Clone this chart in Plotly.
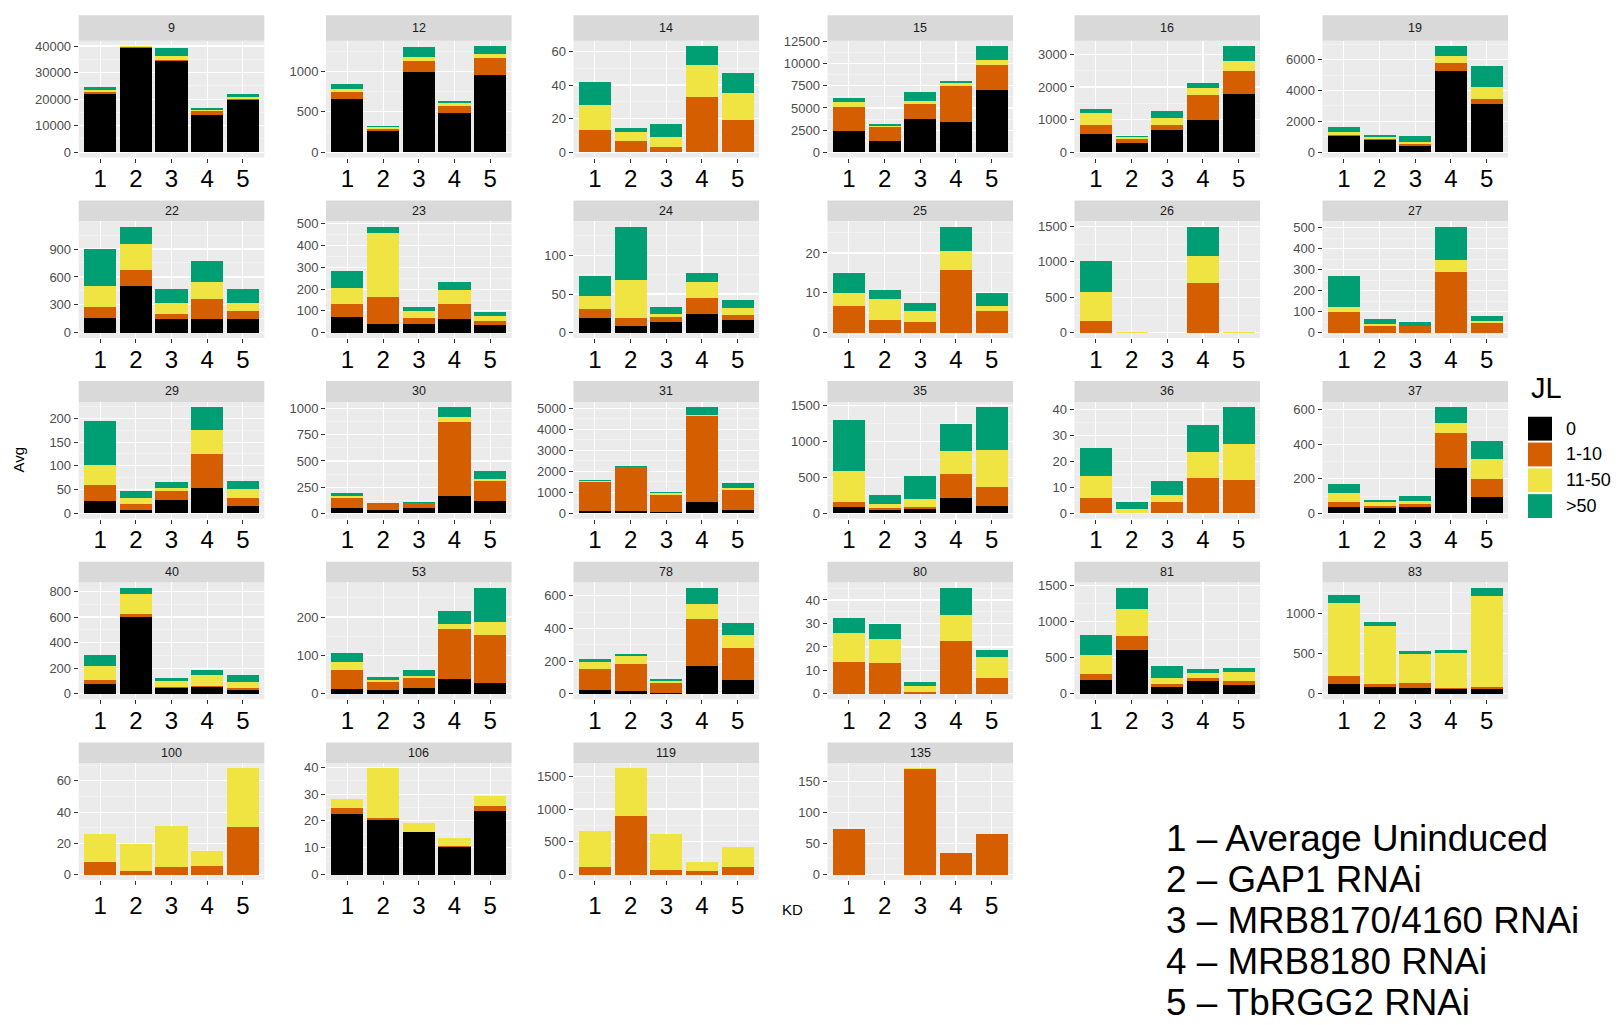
import plotly.graph_objects as go

# ---------------- data ----------------
panels = ["9", "12", "14", "15", "16", "19", "22", "23", "24", "25", "26", "27",
          "29", "30", "31", "35", "36", "37", "40", "53", "78", "80", "81", "83",
          "100", "106", "119", "135"]
kd = ["1", "2", "3", "4", "5"]
jl_levels = ["0", "1-10", "11-50", ">50"]
jl_colors = ["#000000", "#D55E00", "#F0E442", "#009E73"]

jl_0 = [
    [22000, 39100, 34500, 14100, 19600], [660, 265, 990, 483, 963], [0, 0, 0, 0, 0],
    [2450, 1280, 3740, 3470, 6990], [563, 287, 666, 983, 1792], [1040, 800, 433, 5263, 3120],
    [159, 500, 149, 149, 149], [72, 41, 41, 62, 36], [18.7, 8.9, 14.5, 24.7, 16.2],
    [0, 0, 0, 0, 0], [0, 0, 0, 0, 0], [0, 0, 0, 0, 0],
    [25.7, 7, 27.8, 54, 16], [50, 32, 50, 170, 117], [94, 94, 47, 535, 157],
    [88, 42, 60, 217, 106], [0, 0, 0, 0, 0], [36, 29, 36, 261, 96],
    [79, 600, 49, 56, 31], [12.8, 10.3, 16.2, 38.5, 27.4], [24, 16, 8, 169, 84],
    [0, 0, 0, 0, 0], [191, 609, 95, 173, 127], [126, 85, 73, 57, 57],
    [0, 0, 0, 0, 0], [22.6, 20.2, 15.9, 10.1, 23.6], [0, 0, 0, 0, 0], [0, 0, 0, 0, 0],
]
jl_1_10 = [
    [500, 400, 300, 1300, 600], [90, 28, 138, 96, 211], [13, 6.8, 2.8, 32.6, 19.1],
    [2690, 1550, 1700, 4040, 2830], [277, 133, 163, 768, 696], [108, 65, 108, 520, 347],
    [121, 180, 57, 216, 85], [58, 124, 27, 68, 18], [11.9, 9.8, 6.4, 20.4, 7.2],
    [6.75, 3.1, 2.8, 15.8, 5.4], [163, 0, 0, 701, 0], [97, 33, 33, 290, 47],
    [33.3, 11.8, 18.7, 71.5, 16.6], [95, 63, 45, 704, 192], [1384, 2092, 849, 4088, 944],
    [64, 36, 23, 332, 268], [5.8, 0.1, 4.2, 13.7, 12.8], [29, 15, 21, 203, 105],
    [29, 23, 7, 8, 13], [48.7, 19.7, 25.7, 131.5, 125.6], [129, 165, 56, 287, 199],
    [13.6, 13, 0.7, 22.7, 6.85], [82, 186, 37, 50, 55], [98, 41, 57, 16, 28],
    [7.8, 2.3, 5.1, 5.7, 30.2], [2.1, 0.85, 0.1, 0.7, 1.8], [121, 896, 70, 50, 121],
    [73, 0, 170, 35, 64.5],
]
jl_11_50 = [
    [800, 400, 1300, 500, 500], [40, 17, 58, 28, 41], [15, 5.3, 6.5, 19.1, 16.1],
    [530, 190, 380, 265, 640], [348, 41, 226, 215, 317], [173, 109, 109, 433, 758],
    [220, 277, 109, 181, 81], [77, 290, 30, 65, 25], [17.5, 49.8, 3.8, 20.4, 8.5],
    [3.1, 5.3, 2.55, 4.7, 1.3], [408, 12, 0, 381, 12], [25, 11, 1, 58, 8],
    [42, 13.8, 7.7, 49.3, 18.8], [16, 2, 6, 41, 22], [63, 31, 79, 47, 110],
    [443, 47, 115, 314, 503], [8.4, 1.6, 3, 9.7, 13.9], [52, 19, 16, 57, 111],
    [112, 159, 44, 80, 46], [21.5, 6, 6, 12, 34], [42, 48, 14, 94, 74],
    [12.3, 10.5, 2.8, 10.9, 8.95], [259, 378, 91, 72, 123], [906, 715, 362, 435, 1130],
    [18.4, 17.1, 26.2, 9.5, 37.8], [3.5, 18.55, 3.3, 3, 4], [548, 725, 554, 136, 292],
    [1, 0, 1, 0, 1.5],
]
jl_over50 = [
    [1200, 100, 3100, 900, 1400], [60, 16, 116, 33, 103], [13.5, 2.2, 7.2, 11.5, 11.7],
    [415, 150, 1020, 225, 1550], [143, 30, 204, 143, 451], [303, 151, 390, 672, 1343],
    [400, 184, 156, 230, 156], [77, 31, 21, 38, 15], [24.7, 68.5, 8.9, 11.5, 10.2],
    [5.1, 2.3, 2.05, 6.1, 3.2], [446, 0, 0, 414, 0], [148, 20, 15, 157, 27],
    [93, 14.6, 12.5, 48.6, 17.35], [35, 2, 6, 98, 76], [63, 47, 47, 377, 236],
    [711, 138, 319, 378, 604], [10.8, 2.5, 5.2, 10.4, 14.1], [52, 12, 29, 94, 106],
    [80, 46, 26, 43, 56], [23, 8.4, 14.5, 32.5, 89], [20, 14, 12, 98, 78],
    [6.3, 6.3, 1.4, 11.6, 2.9], [282, 295, 168, 50, 59], [98, 53, 41, 37, 98],
    [0, 0, 0, 0, 0], [0, 0, 0, 0, 0], [0, 0, 0, 0, 0], [0, 0, 0, 0, 0],
]
tick_step = [10000, 500, 20, 2500, 1000, 2000, 300, 100, 50, 10, 500, 100,
             50, 250, 1000, 500, 10, 200, 200, 100, 200, 10, 500, 500,
             20, 10, 500, 50]
kd_labels = ["1 \u2013 Average Uninduced", "2 \u2013 GAP1 RNAi",
             "3 \u2013 MRB8170/4160 RNAi", "4 \u2013 MRB8180 RNAi", "5 \u2013 TbRGG2 RNAi"]

series = [jl_0, jl_1_10, jl_11_50, jl_over50]

# ---------------- layout geometry (pixels) ----------------
W, H = 1622, 1025
FONT = "Liberation Sans"
col_left = [78.7, 326.0, 573.5, 827.5, 1074.5, 1322.5]
panel_w = 185.6
plot_top0 = 35.0
plot_h = 117.7
row_pitch = 182.0
strip_h_rows = [25.7, 21.0, 21.0, 21.0, 20.7]

fig = go.Figure()
layout = {}
shapes = []
annotations = []

for i, name in enumerate(panels):
    r, c = divmod(i, 6)
    n = i + 1
    xa = "x" if n == 1 else f"x{n}"
    ya = "y" if n == 1 else f"y{n}"
    for lvl, colr, data in zip(jl_levels, jl_colors, series):
        fig.add_trace(go.Bar(x=kd, y=data[i], name=lvl, marker_color=colr,
                             marker_line_width=0, width=0.9, xaxis=xa, yaxis=ya,
                             showlegend=False))
    totals = [sum(s[i][k] for s in series) for k in range(5)]
    M = max(totals)
    left = col_left[c]
    top = plot_top0 + r * row_pitch
    bottom = top + plot_h
    strip_h = strip_h_rows[r]
    x0, x1 = left / W, (left + panel_w) / W
    y0, y1 = 1 - bottom / H, 1 - top / H
    step = tick_step[i]
    sfx = "" if n == 1 else str(n)
    layout["xaxis" + sfx] = dict(
        domain=[x0, x1], anchor=ya, type="category", range=[-0.6, 4.6],
        showgrid=True, gridcolor="white", gridwidth=1.1, zeroline=False,
        ticks="outside", ticklen=4, tickcolor="#333333", tickwidth=1,
        ticklabelstandoff=(0 if r == 4 else -4),
        tickfont=dict(family=FONT, size=24, color="black"), showline=False,
        fixedrange=True)
    layout["yaxis" + sfx] = dict(
        domain=[y0, y1], anchor=xa, range=[-0.05 * M, 1.05 * M],
        tickmode="linear", tick0=0, dtick=step, tickformat="d",
        showgrid=True, gridcolor="white", gridwidth=1.1, zeroline=False,
        ticks="outside", ticklen=4, tickcolor="#333333", tickwidth=1,
        tickfont=dict(family=FONT, size=13, color="#4D4D4D"), showline=False,
        minor=dict(tick0=0, dtick=step / 2, showgrid=True, gridcolor="#F7F7F7",
                   gridwidth=0.6, ticks=""),
        fixedrange=True)
    shapes.append(dict(type="rect", xref="paper", yref="paper", x0=x0, x1=x1,
                       y0=y1, y1=1 - (top - strip_h) / H, fillcolor="#D9D9D9",
                       line=dict(width=0), layer="below"))
    annotations.append(dict(xref="paper", yref="paper", x=(x0 + x1) / 2,
                            y=1 - (top - strip_h / 2) / H, text=name, showarrow=False,
                            font=dict(family=FONT, size=12.5, color="#1A1A1A"),
                            xanchor="center", yanchor="middle"))

# axis titles
annotations.append(dict(xref="paper", yref="paper", x=18 / W, y=1 - 457 / H, text="Avg",
                        textangle=-90, showarrow=False, xanchor="center", yanchor="middle",
                        font=dict(family=FONT, size=15, color="black")))
annotations.append(dict(xref="paper", yref="paper", x=792 / W, y=1 - 911 / H, text="KD",
                        showarrow=False, xanchor="center", yanchor="middle",
                        font=dict(family=FONT, size=15, color="black")))

# legend (drawn manually to match the large keys)
annotations.append(dict(xref="paper", yref="paper", x=1529 / W, y=1 - 385 / H, text="JL",
                        showarrow=False, xanchor="left", yanchor="middle",
                        font=dict(family=FONT, size=29, color="black")))
key_top = 413.0
key_h = 26.0
for k, (lvl, colr) in enumerate(zip(jl_levels, jl_colors)):
    t = key_top + k * key_h
    shapes.append(dict(type="rect", xref="paper", yref="paper", x0=1528 / W, x1=1552 / W,
                       y0=1 - (t + key_h - 1) / H, y1=1 - (t + 1) / H, fillcolor=colr,
                       line=dict(width=0)))
    annotations.append(dict(xref="paper", yref="paper", x=1564 / W,
                            y=1 - (t + key_h / 2) / H, text=lvl, showarrow=False,
                            xanchor="left", yanchor="middle",
                            font=dict(family=FONT, size=18, color="black")))

# KD description text block
for k, txt in enumerate(kd_labels):
    annotations.append(dict(xref="paper", yref="paper", x=1164 / W,
                            y=1 - (839 + k * 41.3) / H, text=txt, showarrow=False,
                            xanchor="left", yanchor="middle",
                            font=dict(family=FONT, size=36.8, color="black")))

fig.update_layout(**layout)
fig.update_layout(
    width=W, height=H, margin=dict(l=0, r=0, t=0, b=0),
    paper_bgcolor="white", plot_bgcolor="#EBEBEB", barmode="stack",
    shapes=shapes, annotations=annotations, showlegend=False,
    font=dict(family=FONT),
)
fig.write_html("out.html", config={"displayModeBar": False, "staticPlot": True},
               post_script="document.body.style.margin='0';document.body.style.padding='0';"
                           "document.body.style.overflow='hidden';")
